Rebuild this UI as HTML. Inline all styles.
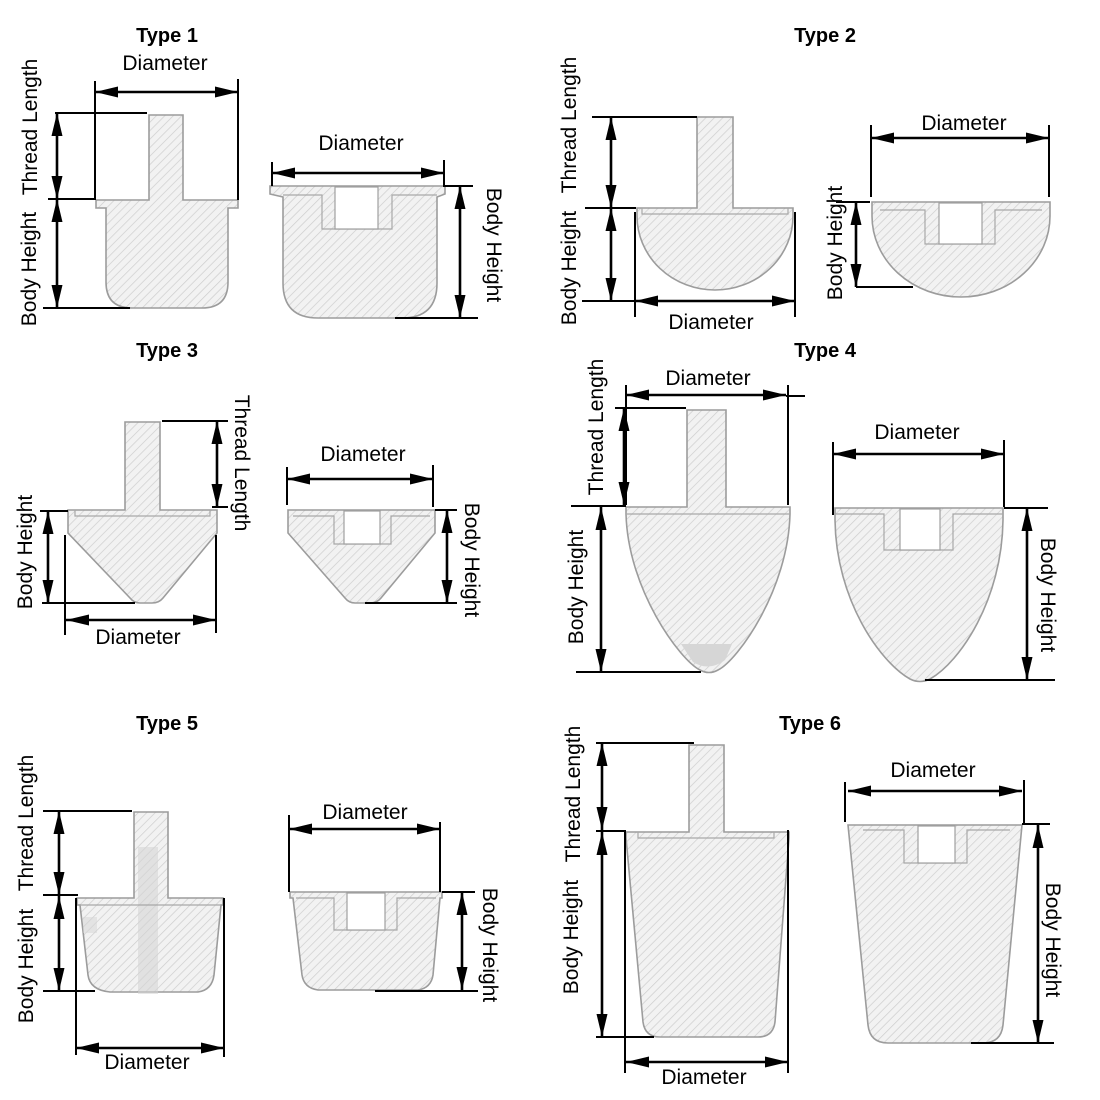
<!DOCTYPE html>
<html>
<head>
<meta charset="utf-8">
<style>
  html,body{margin:0;padding:0;background:#fff;}
  svg{display:block;}
  .s{fill:url(#h);stroke:#9c9c9c;stroke-width:1.6;}
  .l{fill:none;stroke:#a8a8a8;stroke-width:1.2;}
  .w{fill:#fff;stroke:#a0a0a0;stroke-width:1.2;}
  .d{stroke:#000;stroke-width:2.6;fill:none;marker-start:url(#a);marker-end:url(#a);}
  .e{stroke:#000;stroke-width:2;fill:none;}
  text{font-family:"Liberation Sans",Arial,sans-serif;fill:#000;}
  .t{font-size:20px;font-weight:bold;text-anchor:middle;}
  .x{font-size:21px;text-anchor:middle;}
</style>
</head>
<body>
<svg width="1100" height="1100" viewBox="0 0 1100 1100" xmlns="http://www.w3.org/2000/svg">
<defs>
  <pattern id="h" patternUnits="userSpaceOnUse" width="6" height="6" patternTransform="rotate(45)">
    <rect width="6" height="6" fill="#f2f2f2"/>
    <line x1="0" y1="0" x2="0" y2="6" stroke="#cdcdcd" stroke-width="1.4"/>
  </pattern>
  <marker id="a" markerUnits="userSpaceOnUse" markerWidth="24" markerHeight="12" refX="23" refY="6" orient="auto-start-reverse">
    <path d="M0,0.5 L23,6 L0,11.5 Z" fill="#000"/>
  </marker>
</defs>
<rect width="1100" height="1100" fill="#fff"/>

<!-- ================= TYPE 1 ================= -->
<text class="t" x="167" y="42">Type 1</text>
<path class="s" d="M149,115 L183,115 L183,200 L238,200 L238,208 L228,208 L228,282 Q228,308 202,308 L132,308 Q106,308 106,282 L106,208 L96,208 L96,200 L149,200 Z"/>
<line class="e" x1="95" y1="81" x2="95" y2="200"/>
<line class="e" x1="238" y1="79" x2="238" y2="200"/>
<line class="e" x1="55" y1="113" x2="147" y2="113"/>
<line class="e" x1="48" y1="199" x2="95" y2="199"/>
<line class="e" x1="43" y1="308" x2="130" y2="308"/>
<line class="d" x1="95" y1="92" x2="238" y2="92"/>
<line class="d" x1="57" y1="113" x2="57" y2="199"/>
<line class="d" x1="57" y1="199" x2="57" y2="308"/>
<text class="x" x="165" y="70">Diameter</text>
<text class="x" transform="rotate(-90 37 127)" x="37" y="127">Thread Length</text>
<text class="x" transform="rotate(-90 36 269)" x="36" y="269">Body Height</text>

<path class="s" d="M270,186 L445,186 L445,194 L437,197 L437,283 Q437,318 402,318 L318,318 Q283,318 283,283 L283,197 L270,194 Z"/>
<polyline class="l" points="283,195 322,195 322,229 392,229 392,195 437,195"/>
<rect class="w" x="335" y="187" width="43" height="42"/>
<line class="e" x1="272" y1="162" x2="272" y2="186"/>
<line class="e" x1="444" y1="160" x2="444" y2="187"/>
<line class="e" x1="445" y1="186" x2="473" y2="186"/>
<line class="e" x1="395" y1="318" x2="478" y2="318"/>
<line class="d" x1="272" y1="173" x2="444" y2="173"/>
<line class="d" x1="460" y1="186" x2="460" y2="318"/>
<text class="x" x="361" y="150">Diameter</text>
<text class="x" transform="rotate(90 487 245)" x="487" y="245">Body Height</text>

<!-- ================= TYPE 2 ================= -->
<text class="t" x="825" y="42">Type 2</text>
<path class="s" d="M697,117 L733,117 L733,208 L793,208 L793,216 A78,74 0 0 1 637,216 L637,208 L697,208 Z"/>
<polyline class="l" points="642,208 642,214 788,214 788,208"/>
<line class="e" x1="592" y1="117" x2="697" y2="117"/>
<line class="e" x1="585" y1="208" x2="636" y2="208"/>
<line class="e" x1="635" y1="212" x2="635" y2="317"/>
<line class="e" x1="795" y1="212" x2="795" y2="317"/>
<line class="e" x1="582" y1="301" x2="635" y2="301"/>
<line class="d" x1="611" y1="117" x2="611" y2="208"/>
<line class="d" x1="611" y1="208" x2="611" y2="301"/>
<line class="d" x1="635" y1="301" x2="795" y2="301"/>
<text class="x" x="711" y="329">Diameter</text>
<text class="x" transform="rotate(-90 576 125)" x="576" y="125">Thread Length</text>
<text class="x" transform="rotate(-90 576 268)" x="576" y="268">Body Height</text>

<path class="s" d="M872,202 L1050,202 L1050,216 A89,81 0 0 1 872,216 Z"/>
<polyline class="l" points="880,210 925,210 925,244 995,244 995,210 1042,210"/>
<rect class="w" x="939" y="203" width="43" height="41"/>
<line class="e" x1="871" y1="125" x2="871" y2="197"/>
<line class="e" x1="1049" y1="125" x2="1049" y2="197"/>
<line class="e" x1="836" y1="202" x2="870" y2="202"/>
<line class="e" x1="856" y1="287" x2="913" y2="287"/>
<line class="d" x1="871" y1="138" x2="1049" y2="138"/>
<line class="d" x1="856" y1="202" x2="856" y2="287"/>
<text class="x" x="964" y="130">Diameter</text>
<text class="x" transform="rotate(-90 842 243)" x="842" y="243">Body Height</text>

<!-- ================= TYPE 3 ================= -->
<text class="t" x="167" y="357">Type 3</text>
<path class="s" d="M125,422 L160,422 L160,510 L217,510 L217,533 L163,598 Q159,603 152,603 L140,603 Q134,603 130,598 L68,533 L68,510 L125,510 Z"/>
<polyline class="l" points="75,510 75,516 210,516 210,510"/>
<line class="e" x1="162" y1="421" x2="228" y2="421"/>
<line class="e" x1="212" y1="507" x2="228" y2="507"/>
<line class="e" x1="40" y1="511" x2="68" y2="511"/>
<line class="e" x1="42" y1="603" x2="135" y2="603"/>
<line class="e" x1="65" y1="535" x2="65" y2="635"/>
<line class="e" x1="216" y1="535" x2="216" y2="633"/>
<line class="d" x1="217" y1="421" x2="217" y2="507"/>
<line class="d" x1="48" y1="511" x2="48" y2="603"/>
<line class="d" x1="66" y1="620" x2="216" y2="620"/>
<text class="x" x="138" y="644">Diameter</text>
<text class="x" transform="rotate(90 235 463)" x="235" y="463">Thread Length</text>
<text class="x" transform="rotate(-90 32 552)" x="32" y="552">Body Height</text>

<path class="s" d="M288,510 L435,510 L435,533 L381,598 Q377,603 370,603 L355,603 Q349,603 345,598 L288,533 Z"/>
<polyline class="l" points="293,516 334,516 334,544 391,544 391,516 430,516"/>
<rect class="w" x="344" y="511" width="36" height="33"/>
<line class="e" x1="287" y1="467" x2="287" y2="505"/>
<line class="e" x1="433" y1="465" x2="433" y2="507"/>
<line class="e" x1="435" y1="510" x2="457" y2="510"/>
<line class="e" x1="365" y1="603" x2="457" y2="603"/>
<line class="d" x1="287" y1="479" x2="433" y2="479"/>
<line class="d" x1="447" y1="510" x2="447" y2="603"/>
<text class="x" x="363" y="461">Diameter</text>
<text class="x" transform="rotate(90 465 560)" x="465" y="560">Body Height</text>

<!-- ================= TYPE 4 ================= -->
<text class="t" x="825" y="357">Type 4</text>
<path class="s" d="M687,410 L726,410 L726,507 L790,507 L790,514 C788,590 738,660 718,670 Q709,675 700,670 C680,660 628,590 626,514 L626,507 L687,507 Z"/>
<path d="M681,644 L732,644 L725,660 Q709,672 693,662 Z" fill="#d6d6d6"/>
<line class="l" x1="626" y1="514" x2="790" y2="514"/>
<line class="e" x1="626" y1="385" x2="626" y2="505"/>
<line class="e" x1="788" y1="385" x2="788" y2="505"/>
<line class="e" x1="786" y1="396" x2="805" y2="396"/>
<line class="e" x1="615" y1="408" x2="686" y2="408"/>
<line class="e" x1="571" y1="506" x2="626" y2="506"/>
<line class="e" x1="576" y1="672" x2="701" y2="672"/>
<line class="d" x1="626" y1="395" x2="786" y2="395"/>
<line class="d" x1="624" y1="408" x2="624" y2="505"/>
<line class="d" x1="601" y1="507" x2="601" y2="672"/>
<text class="x" x="708" y="385">Diameter</text>
<text class="x" transform="rotate(-90 603 427)" x="603" y="427">Thread Length</text>
<text class="x" transform="rotate(-90 583 587)" x="583" y="587">Body Height</text>

<path class="s" d="M835,508 L1003,508 L1003,520 C1002,600 960,662 930,679 Q920,684 910,679 C880,662 836,600 835,520 Z"/>
<polyline class="l" points="835,514 884,514 884,550 953,550 953,514 1003,514"/>
<rect class="w" x="900" y="509" width="40" height="41"/>
<line class="e" x1="833" y1="442" x2="833" y2="515"/>
<line class="e" x1="1004" y1="440" x2="1004" y2="507"/>
<line class="e" x1="1004" y1="508" x2="1048" y2="508"/>
<line class="e" x1="925" y1="680" x2="1055" y2="680"/>
<line class="d" x1="833" y1="454" x2="1004" y2="454"/>
<line class="d" x1="1027" y1="508" x2="1027" y2="680"/>
<text class="x" x="917" y="439">Diameter</text>
<text class="x" transform="rotate(90 1041 595)" x="1041" y="595">Body Height</text>

<!-- ================= TYPE 5 ================= -->
<text class="t" x="167" y="730">Type 5</text>
<path class="s" d="M134,812 L168,812 L168,898 L223,898 L223,905 L221,905 L214,975 Q212,990 198,992 L110,992 Q90,990 88,975 L80,905 L77,905 L77,898 L134,898 Z"/>
<rect x="138" y="847" width="20" height="147" fill="#d4d4d4" opacity="0.55"/>
<rect x="83" y="917" width="14" height="16" fill="#d4d4d4" opacity="0.5"/>
<line class="l" x1="80" y1="905" x2="221" y2="905"/>
<line class="e" x1="43" y1="811" x2="132" y2="811"/>
<line class="e" x1="43" y1="895" x2="78" y2="895"/>
<line class="e" x1="43" y1="991" x2="95" y2="991"/>
<line class="e" x1="76" y1="898" x2="76" y2="1055"/>
<line class="e" x1="224" y1="898" x2="224" y2="1057"/>
<line class="d" x1="59" y1="811" x2="59" y2="895"/>
<line class="d" x1="59" y1="896" x2="59" y2="991"/>
<line class="d" x1="76" y1="1048" x2="224" y2="1048"/>
<text class="x" x="147" y="1069">Diameter</text>
<text class="x" transform="rotate(-90 33 823)" x="33" y="823">Thread Length</text>
<text class="x" transform="rotate(-90 33 966)" x="33" y="966">Body Height</text>

<path class="s" d="M290,892 L442,892 L442,898 L440,898 L433,975 Q431,988 418,990 L318,990 Q304,988 302,975 L293,898 L290,898 Z"/>
<polyline class="l" points="296,898 334,898 334,930 397,930 397,898 436,898"/>
<rect class="w" x="347" y="893" width="38" height="37"/>
<line class="e" x1="289" y1="815" x2="289" y2="892"/>
<line class="e" x1="440" y1="822" x2="440" y2="892"/>
<line class="e" x1="442" y1="892" x2="475" y2="892"/>
<line class="e" x1="375" y1="991" x2="478" y2="991"/>
<line class="d" x1="289" y1="829" x2="440" y2="829"/>
<line class="d" x1="462" y1="892" x2="462" y2="990"/>
<text class="x" x="365" y="819">Diameter</text>
<text class="x" transform="rotate(90 483 945)" x="483" y="945">Body Height</text>

<!-- ================= TYPE 6 ================= -->
<text class="t" x="810" y="730">Type 6</text>
<path class="s" d="M689,745 L724,745 L724,832 L789,832 L789,838 L775,1022 Q773,1037 758,1037 L660,1037 Q645,1037 643,1022 L626,838 L626,832 L689,832 Z"/>
<polyline class="l" points="638,832 638,838 774,838 774,832"/>
<line class="e" x1="596" y1="743" x2="694" y2="743"/>
<line class="e" x1="596" y1="831" x2="625" y2="831"/>
<line class="e" x1="596" y1="1037" x2="654" y2="1037"/>
<line class="e" x1="625" y1="830" x2="625" y2="1073"/>
<line class="e" x1="788" y1="830" x2="788" y2="1073"/>
<line class="d" x1="602" y1="743" x2="602" y2="830"/>
<line class="d" x1="602" y1="832" x2="602" y2="1037"/>
<line class="d" x1="626" y1="1062" x2="788" y2="1062"/>
<text class="x" x="704" y="1084">Diameter</text>
<text class="x" transform="rotate(-90 580 794)" x="580" y="794">Thread Length</text>
<text class="x" transform="rotate(-90 578 937)" x="578" y="937">Body Height</text>

<path class="s" d="M848,825 L1022,825 L1003,1025 Q1001,1043 983,1043 L888,1043 Q870,1043 868,1025 Z"/>
<polyline class="l" points="863,830 904,830 904,863 967,863 967,830 1010,830"/>
<rect class="w" x="918" y="826" width="37" height="37"/>
<line class="e" x1="845" y1="782" x2="845" y2="822"/>
<line class="e" x1="1024" y1="780" x2="1024" y2="825"/>
<line class="e" x1="1022" y1="824" x2="1050" y2="824"/>
<line class="e" x1="971" y1="1043" x2="1054" y2="1043"/>
<line class="d" x1="848" y1="791" x2="1022" y2="791"/>
<line class="d" x1="1038" y1="825" x2="1038" y2="1043"/>
<text class="x" x="933" y="777">Diameter</text>
<text class="x" transform="rotate(90 1046 940)" x="1046" y="940">Body Height</text>

</svg>
</body>
</html>
